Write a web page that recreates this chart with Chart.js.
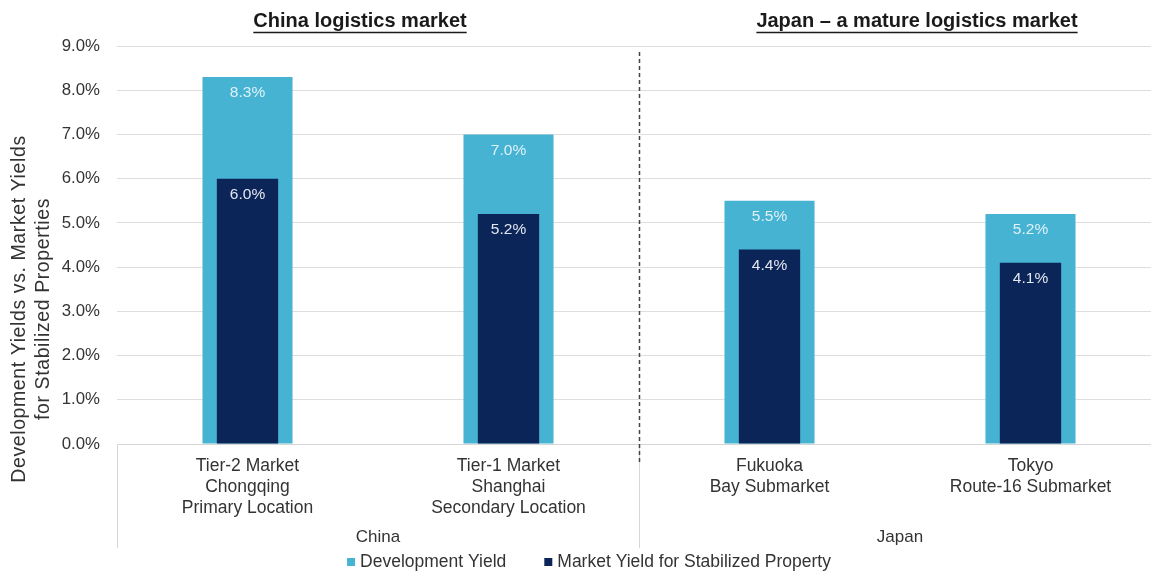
<!DOCTYPE html>
<html>
<head>
<meta charset="utf-8">
<script src="https://cdn.jsdelivr.net/npm/chart.js@4.4.1/dist/chart.umd.min.js"></script>
<style>
  html, body { margin: 0; padding: 0; background: #fff; overflow: hidden; }
  #wrap { width: 1161px; height: 572px; position: relative; }
</style>
</head>
<body>
<div id="wrap"><canvas id="myChart"></canvas></div>
<script>
// 市場ごとのカテゴリ（複数行ラベル）
const categories = [
    ['Tier-2 Market', 'Chongqing', 'Primary Location'],
    ['Tier-1 Market', 'Shanghai', 'Secondary Location'],
    ['Fukuoka', 'Bay Submarket'],
    ['Tokyo', 'Route-16 Submarket']
];
// 利回り（%）
const developmentYield = [8.3, 7.0, 5.5, 5.2];
const marketYield = [6.0, 5.2, 4.4, 4.1];
// 国ごとのグループ
const regions = ['China', 'Japan'];
const regionTitles = ['China logistics market', 'Japan \u2013 a mature logistics market'];
const seriesNames = ['Development Yield', 'Market Yield for Stabilized Property'];
const yAxisTitle = ['Development Yields vs. Market Yields', 'for Stabilized Properties'];

const LIGHT = '#47b3d3';
const DARK = '#0b2559';
const FONT = '"Liberation Sans", Arial, sans-serif';
const TEXT = '#333333';

// 注釈・凡例・区切り線を描くプラグイン
const decorations = {
    id: 'decorations',
    afterDatasetsDraw(chart) {
        const ctx = chart.ctx;
        ctx.save();
        ctx.font = '15.5px ' + FONT;
        ctx.textAlign = 'center';
        ctx.textBaseline = 'middle';
        chart.data.datasets.forEach((ds, i) => {
            const meta = chart.getDatasetMeta(i);
            meta.data.forEach((bar, j) => {
                ctx.fillStyle = i === 0 ? '#dff1f8' : '#e3e7ef';
                ctx.fillText(ds.data[j].toFixed(1) + '%', bar.x, bar.y + 16);
            });
        });
        ctx.restore();
    },
    afterDraw(chart) {
        const ctx = chart.ctx;
        const x = chart.scales.x;
        const area = chart.chartArea;
        const step = x.getPixelForValue(1) - x.getPixelForValue(0);
        const mid = x.getPixelForValue(1) + step / 2;
        ctx.save();

        // 下部の区切り線
        ctx.strokeStyle = '#d6d6d6';
        ctx.lineWidth = 1;
        [area.left, mid].forEach(px => {
            ctx.beginPath();
            ctx.moveTo(Math.round(px) + 0.5, area.bottom);
            ctx.lineTo(Math.round(px) + 0.5, 548);
            ctx.stroke();
        });

        // 中国と日本の境界（破線）
        ctx.strokeStyle = '#444';
        ctx.lineWidth = 1.5;
        ctx.setLineDash([4, 3]);
        ctx.beginPath();
        ctx.moveTo(Math.round(mid) + 0.5, 52);
        ctx.lineTo(Math.round(mid) + 0.5, 463);
        ctx.stroke();
        ctx.setLineDash([]);

        // 国名ラベル
        ctx.fillStyle = TEXT;
        ctx.font = '17px ' + FONT;
        ctx.textAlign = 'center';
        ctx.textBaseline = 'middle';
        ctx.fillText(regions[0], (area.left + mid) / 2, 537);
        ctx.fillText(regions[1], (mid + area.right) / 2, 537);

        // 見出し（太字・下線）
        ctx.font = 'bold 20px ' + FONT;
        ctx.fillStyle = '#1a1a1a';
        ctx.strokeStyle = '#1a1a1a';
        ctx.lineWidth = 1.5;
        [[regionTitles[0], 360], [regionTitles[1], 917]].forEach(([t, cx]) => {
            const w = ctx.measureText(t).width;
            ctx.fillText(t, cx, 21);
            ctx.beginPath();
            ctx.moveTo(cx - w / 2, 32.5);
            ctx.lineTo(cx + w / 2, 32.5);
            ctx.stroke();
        });

        // 縦軸タイトル
        ctx.font = '19.5px ' + FONT;
        ctx.letterSpacing = '0.6px';
        ctx.fillStyle = TEXT;
        ctx.save();
        ctx.translate(20, 309);
        ctx.rotate(-Math.PI / 2);
        ctx.fillText(yAxisTitle[0], 0, 0);
        ctx.fillText(yAxisTitle[1], 0, 24);
        ctx.restore();
        ctx.letterSpacing = '0px';

        // 凡例
        ctx.font = '17.5px ' + FONT;
        ctx.textAlign = 'left';
        const colors = [LIGHT, DARK];
        const widths = seriesNames.map(s => ctx.measureText(s).width);
        const total = 8 + 5 + widths[0] + 38 + 8 + 5 + widths[1];
        let lx = 589 - total / 2;
        seriesNames.forEach((s, i) => {
            ctx.fillStyle = colors[i];
            ctx.fillRect(lx, 558, 8, 8);
            ctx.fillStyle = TEXT;
            ctx.fillText(s, lx + 13, 562);
            lx += 13 + widths[i] + 38;
        });
        ctx.restore();
    }
};

function drawChart() {
    const ctx = document.getElementById('myChart').getContext('2d');

    const data = {
        labels: categories,
        datasets: [{
            label: seriesNames[0],
            data: developmentYield,
            backgroundColor: LIGHT,
            grouped: false,
            categoryPercentage: 1,
            barPercentage: 0.345,
            order: 1
        }, {
            label: seriesNames[1],
            data: marketYield,
            backgroundColor: DARK,
            grouped: false,
            categoryPercentage: 1,
            barPercentage: 0.235,
            order: 0
        }]
    };

    const config = {
        type: 'bar',
        data: data,
        plugins: [decorations],
        options: {
            responsive: true,
            maintainAspectRatio: false,
            animation: false,
            layout: { padding: { top: 46, right: 0, bottom: 0, left: 0 } },
            plugins: {
                legend: { display: false },
                tooltip: { enabled: false }
            },
            scales: {
                x: {
                    grid: { display: false, drawTicks: false },
                    border: { color: '#d6d6d6' },
                    ticks: {
                        color: TEXT,
                        font: { family: FONT, size: 17.5, lineHeight: 1.2 },
                        padding: 12,
                        maxRotation: 0,
                        autoSkip: false
                    },
                    afterFit(s) { s.height = 128; }
                },
                y: {
                    min: 0,
                    max: 9,
                    border: { display: false },
                    grid: { color: '#dedede', drawTicks: false },
                    ticks: {
                        stepSize: 1,
                        color: TEXT,
                        font: { family: FONT, size: 16.8 },
                        padding: 17,
                        callback: v => v.toFixed(1) + '%'
                    },
                    afterFit(s) { s.width = 117; }
                }
            }
        }
    };

    new Chart(ctx, config);
}

window.onload = drawChart;
</script>
</body>
</html>
